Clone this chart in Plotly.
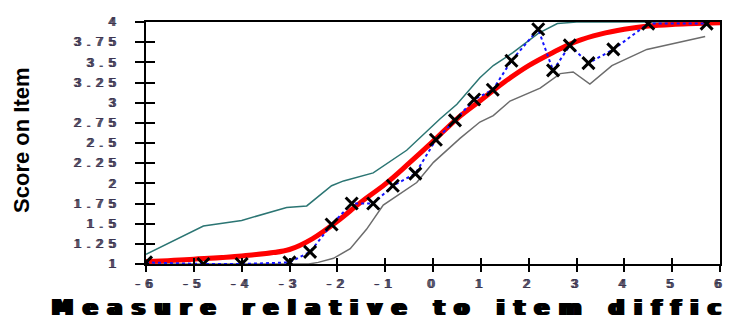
import plotly.graph_objects as go

# Observed average scores (crosses, joined by blue dotted line)
obs_x = [-6.0, -4.8, -4.0, -3.0, -2.57, -2.12, -1.70, -1.25, -0.84, -0.37, 0.06, 0.46,
         0.86, 1.25, 1.64, 2.20, 2.51, 2.86, 3.25, 3.77, 4.50, 5.72]
obs_y = [1.02, 1.0, 1.0, 1.02, 1.15, 1.49, 1.75, 1.75, 1.97, 2.12, 2.54, 2.78,
         3.04, 3.16, 3.52, 3.91, 3.40, 3.71, 3.49, 3.66, 3.98, 3.98]

# Model expected score curve (red)
model_x = [-6, -5, -4, -3, -2.5, -2, -1.5, -1, -0.5, 0, 0.5, 1, 1.5, 2, 2.5, 3, 3.5,
           4, 4.5, 5, 5.5, 6]
model_y = [1.03, 1.06, 1.10, 1.18, 1.32, 1.53, 1.77, 1.99, 2.25, 2.52, 2.80, 3.03,
           3.26, 3.46, 3.62, 3.76, 3.85, 3.91, 3.95, 3.97, 3.98, 3.99]

# Upper confidence band (teal)
upper_x = [-6, -4.8, -4.0, -3.06, -2.64, -2.36, -2.12, -1.87, -1.25, -0.55, 0.15, 0.5,
           0.98, 1.26, 1.67, 2.2, 2.6, 3.0, 5.72]
upper_y = [1.12, 1.47, 1.54, 1.70, 1.72, 1.86, 1.97, 2.03, 2.13, 2.41, 2.80, 2.98,
           3.31, 3.46, 3.62, 3.86, 3.98, 4.0, 4.0]

# Lower confidence band (grey)
lower_x = [-6, -2.6, -2.40, -2.08, -1.73, -1.39, -1.04, -0.34, 0.01, 0.57, 0.98, 1.26,
           1.61, 2.24, 2.66, 2.93, 3.28, 3.74, 4.47, 5.69]
lower_y = [1.0, 1.0, 1.02, 1.07, 1.19, 1.43, 1.73, 2.01, 2.26, 2.56, 2.76, 2.84,
           3.02, 3.18, 3.36, 3.38, 3.23, 3.46, 3.66, 3.82]

x_ticks = [-6, -5, -4, -3, -2, -1, 0, 1, 2, 3, 4, 5, 6]
x_tick_text = ["-6", "-5", "-4", "-3", "-2", "-1", "0", "1", "2", "3", "4", "5", "6"]
y_ticks = [1, 1.25, 1.5, 1.75, 2, 2.25, 2.5, 2.75, 3, 3.25, 3.5, 3.75, 4]
y_tick_text = ["1", "1.25", "1.5", "1.75", "2", "2.25", "2.5", "2.75", "3", "3.25",
               "3.5", "3.75", "4"]

x_title = "Measure relative to item diffic"
y_title = "Score on Item"

tick_color = "#3c3650"


def wide(t, px):
    return '<span style="letter-spacing:%spx">%s</span>' % (px, t)


fig = go.Figure()
fig.add_trace(go.Scatter(x=upper_x, y=upper_y, mode="lines",
                         line=dict(color="#2b7573", width=1.5), hoverinfo="skip"))
fig.add_trace(go.Scatter(x=lower_x, y=lower_y, mode="lines",
                         line=dict(color="#6c6c6c", width=1.5), hoverinfo="skip"))
fig.add_trace(go.Scatter(x=model_x, y=model_y, mode="lines",
                         line=dict(color="#ff0000", width=5, shape="spline"),
                         hoverinfo="skip"))
fig.add_trace(go.Scatter(x=obs_x, y=obs_y, mode="lines",
                         line=dict(color="#1414ff", width=2, dash="dot"),
                         hoverinfo="skip"))
fig.add_trace(go.Scatter(x=obs_x, y=obs_y, mode="markers",
                         marker=dict(symbol="x-thin", size=12,
                                     line=dict(color="black", width=3)),
                         hoverinfo="skip"))
# invisible trace to host the overlay axes (inner tick halves)
fig.add_trace(go.Scatter(x=[None], y=[None], xaxis="x2", yaxis="y2",
                         mode="markers", hoverinfo="skip"))

tick_font = dict(family="Liberation Sans, Arial", size=12, color=tick_color,
                 shadow="1px 0 0 %s, 2px 0 0 %s" % (tick_color, tick_color))

fig.update_layout(
    width=729, height=313,
    margin=dict(l=138, r=17, t=7, b=57),
    paper_bgcolor="white", plot_bgcolor="white",
    showlegend=False,
    xaxis=dict(range=[-6, 6], tickvals=x_ticks,
               ticktext=[wide(t, 6) for t in x_tick_text],
               showgrid=False, zeroline=False,
               showline=True, linecolor="black", linewidth=2, mirror=True,
               ticks="outside", ticklen=6, tickwidth=2, tickcolor="black",
               ticklabelstandoff=2, tickfont=tick_font),
    yaxis=dict(range=[1, 4], tickvals=y_ticks,
               ticktext=[wide(t, 6) for t in y_tick_text],
               showgrid=False, zeroline=False,
               showline=True, linecolor="black", linewidth=2, mirror=True,
               ticks="outside", ticklen=9, tickwidth=2, tickcolor="black",
               ticklabelstandoff=12, tickfont=tick_font),
    xaxis2=dict(overlaying="x", anchor="y2", range=[-6, 6], tickvals=x_ticks,
                showgrid=False, zeroline=False, showline=False,
                ticks="inside", ticklen=6, tickwidth=2, tickcolor="black",
                showticklabels=False),
    yaxis2=dict(overlaying="y", anchor="x2", range=[1, 4], tickvals=y_ticks,
                showgrid=False, zeroline=False, showline=False,
                ticks="inside", ticklen=9, tickwidth=2, tickcolor="black",
                showticklabels=False),
    annotations=[
        dict(text=y_title, xref="paper", yref="paper", x=-0.218, y=0.512,
             xanchor="center", yanchor="middle", textangle=-90, showarrow=False,
             font=dict(family="Liberation Sans, Arial", size=22, color="black",
                       weight="bold")),
        dict(text=wide(x_title, 10.3), xref="paper", yref="paper", x=-0.1705, y=-0.182,
             xanchor="left", yanchor="middle", showarrow=False,
             font=dict(family="DejaVu Sans", size=21, color="black", weight="bold",
                       shadow="1px 0 0 #000, 2px 0 0 #000, 3px 0 0 #000, 4px 0 0 #000")),
    ],
)

fig.write_html("out.html")
